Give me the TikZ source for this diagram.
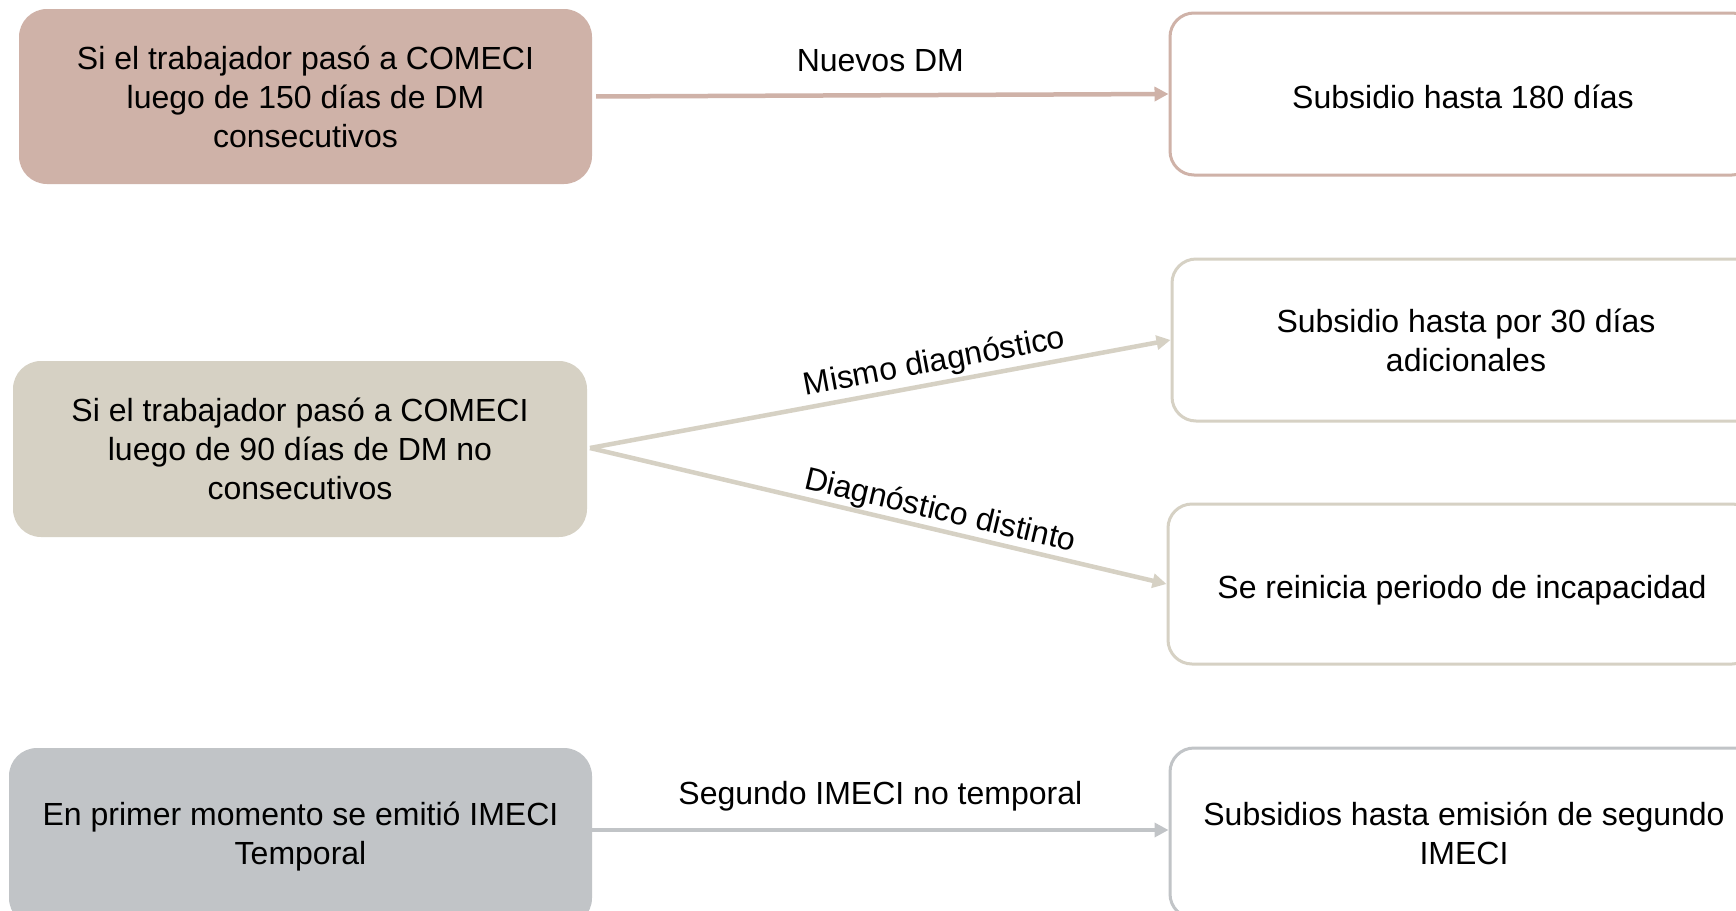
\documentclass[tikz,border=0pt]{standalone}
\usepackage{fontspec}
\setmainfont{Liberation Sans}
\usetikzlibrary{arrows.meta}
\definecolor{rosa}{HTML}{CFB2A8}
\definecolor{beige}{HTML}{D6D1C4}
\definecolor{gris}{HTML}{C1C4C7}
\tikzset{
  srcbox/.style={rectangle, rounded corners=28pt, draw=none, align=center, inner sep=0pt},
  dstbox/.style={rectangle, rounded corners=24pt, fill=white, line width=3pt, align=center, inner sep=0pt},
  conn/.style={line width=4.5pt, -{Triangle[length=14pt,width=14pt]}},
  lbl/.style={font=\fontsize{32}{39}\selectfont, inner sep=0pt}
}
\begin{document}
\begin{tikzpicture}[x=1pt,y=-1pt, font=\fontsize{32}{39}\selectfont]
\useasboundingbox (0,0) rectangle (1736,910);
\clip (0,0) rectangle (1736,910);
\fill[white] (0,0) rectangle (1736,910);
% left boxes
\node[srcbox, fill=rosa, minimum width=573pt, minimum height=175pt] (a) at (305.5,96.5) {Si el trabajador pasó a COMECI\\luego de 150 días de DM\\consecutivos};
\node[srcbox, fill=beige, minimum width=574pt, minimum height=176pt] (b) at (300,449) {Si el trabajador pasó a COMECI\\luego de 90 días de DM no\\consecutivos};
\node[srcbox, fill=gris, minimum width=583pt, minimum height=178pt] (c) at (300.5,837) {En primer momento se emitió IMECI\\Temporal};
% right boxes
\node[dstbox, draw=rosa, minimum width=586pt, minimum height=162pt, text height=35pt, text depth=7pt] (d) at (1463,94) {Subsidio hasta 180 días};
\node[dstbox, draw=beige, minimum width=588pt, minimum height=162pt] (e) at (1466,340) {Subsidio hasta por 30 días\\adicionales};
\node[dstbox, draw=beige, minimum width=588pt, minimum height=160pt, text height=36pt, text depth=7pt] (f) at (1462,584) {Se reinicia periodo de incapacidad};
\node[dstbox, draw=gris, minimum width=588pt, minimum height=170pt] (g) at (1464,833) {Subsidios hasta emisión de segundo\\IMECI};
% connectors
\draw[conn, draw=rosa, shorten <=4pt] (a.east) -- (d.west)
  node[lbl, midway, above=21pt] {Nuevos DM};
\coordinate (bo) at (590,448);
\draw[conn, draw=beige] (bo) -- (e.west)
  node[lbl, pos=0.6, sloped, above=3pt] {Mismo diagnóstico};
\draw[conn, draw=beige] (bo) -- (f.west)
  node[lbl, pos=0.6, sloped, above=1pt] {Diagnóstico distinto};
\draw[conn, draw=gris] ([yshift=7pt]c.east) -- ([yshift=3pt]g.west)
  node[lbl, midway, above=17pt] {Segundo IMECI no temporal};
\end{tikzpicture}
\end{document}
